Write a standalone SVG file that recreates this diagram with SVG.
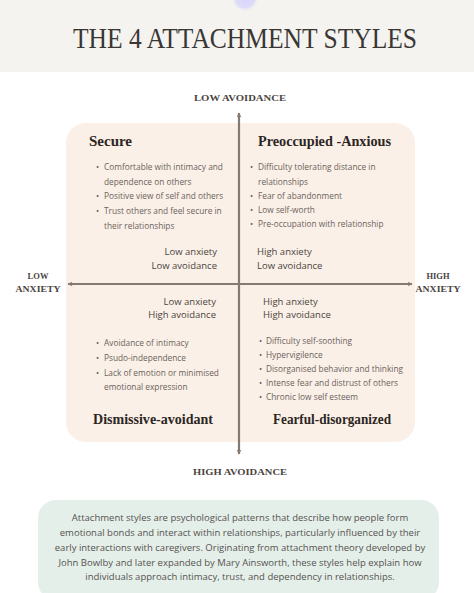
<svg xmlns="http://www.w3.org/2000/svg" width="474" height="593" viewBox="0 0 474 593">
<defs>
<radialGradient id="glow" cx="0.5" cy="0.5" r="0.5">
<stop offset="0" stop-color="#d6d3fb"/>
<stop offset="0.7" stop-color="#dedcf9"/>
<stop offset="1" stop-color="#f3f2ef" stop-opacity="0"/>
</radialGradient>
<marker id="arr" viewBox="0 0 10 10" refX="9" refY="5" markerWidth="5" markerHeight="5" orient="auto-start-reverse" markerUnits="userSpaceOnUse">
<path d="M0,0 L10,5 L0,10 L3,5 Z" fill="#857a72"/>
</marker>
<style>
.title{font-family:"Liberation Serif",serif;font-size:29px;fill:#3a3634}
.axis{font-family:"Liberation Serif",serif;font-weight:bold;font-size:8.5px;fill:#4a4440}
.qt{font-family:"Liberation Serif",serif;font-weight:bold;font-size:14.5px;fill:#2b2624}
.lbl{font-family:"Open Sans",sans-serif;font-size:9.5px;fill:#4a4440}
.bul{font-family:"Open Sans",sans-serif;font-size:8.3px;fill:#6a625c}
.para{font-family:"Open Sans",sans-serif;font-size:9.5px;fill:#57524e}
.line{stroke:#857a72;stroke-width:2.2;fill:none}
</style>
</defs>
<rect x="0" y="0" width="474" height="593" fill="#ffffff"/>
<rect id="header" x="0" y="0" width="474" height="72" fill="#f4f3ef"/>
<circle cx="245" cy="-2" r="14" fill="url(#glow)"/>
<text class="title" x="245" y="48" text-anchor="middle" textLength="344" lengthAdjust="spacingAndGlyphs">THE 4 ATTACHMENT STYLES</text>

<rect id="grid-bg" x="66" y="123" width="349" height="319" rx="20" fill="#fbf0e7"/>

<g id="connectors">
<line class="line" x1="239" y1="113" x2="239" y2="454" marker-start="url(#arr)" marker-end="url(#arr)"/>
<line class="line" x1="68" y1="284" x2="412" y2="284" marker-start="url(#arr)" marker-end="url(#arr)"/>
</g>

<g id="low-avoidance"><text class="axis" x="240" y="101" text-anchor="middle" textLength="92" lengthAdjust="spacingAndGlyphs">LOW AVOIDANCE</text></g>
<g id="high-avoidance"><text class="axis" x="240" y="475" text-anchor="middle" textLength="94" lengthAdjust="spacingAndGlyphs">HIGH AVOIDANCE</text></g>
<g id="low-anxiety"><text class="axis" x="38" y="279" text-anchor="middle">LOW</text><text class="axis" x="38" y="292" text-anchor="middle" textLength="45" lengthAdjust="spacingAndGlyphs">ANXIETY</text></g>
<g id="high-anxiety"><text class="axis" x="438" y="279" text-anchor="middle">HIGH</text><text class="axis" x="438" y="292" text-anchor="middle" textLength="45" lengthAdjust="spacingAndGlyphs">ANXIETY</text></g>

<g id="secure">
<text class="qt" x="89" y="146" textLength="43" lengthAdjust="spacingAndGlyphs">Secure</text>
<g class="bul">
<text x="96" y="170">•</text><text x="104" y="170">Comfortable with intimacy and</text>
<text x="104" y="185">dependence on others</text>
<text x="96" y="199">•</text><text x="104" y="199">Positive view of self and others</text>
<text x="96" y="214">•</text><text x="104" y="214">Trust others and feel secure in</text>
<text x="104" y="229">their relationships</text>
</g>
<text class="lbl" x="217" y="255" text-anchor="end">Low anxiety</text>
<text class="lbl" x="217" y="269" text-anchor="end">Low avoidance</text>
</g>

<g id="preoccupied-anxious">
<text class="qt" x="258" y="146" textLength="133" lengthAdjust="spacingAndGlyphs">Preoccupied -Anxious</text>
<g class="bul">
<text x="250" y="170">•</text><text x="258" y="170">Difficulty tolerating distance in</text>
<text x="258" y="185">relationships</text>
<text x="250" y="199">•</text><text x="258" y="199">Fear of abandonment</text>
<text x="250" y="213">•</text><text x="258" y="213">Low self-worth</text>
<text x="250" y="227">•</text><text x="258" y="227">Pre-occupation with relationship</text>
</g>
<text class="lbl" x="257" y="255">High anxiety</text>
<text class="lbl" x="257" y="269">Low avoidance</text>
</g>

<g id="dismissive-avoidant">
<text class="lbl" x="216" y="305" text-anchor="end">Low anxiety</text>
<text class="lbl" x="216" y="318" text-anchor="end">High avoidance</text>
<g class="bul">
<text x="96" y="346">•</text><text x="104" y="346">Avoidance of intimacy</text>
<text x="96" y="361">•</text><text x="104" y="361">Psudo-independence</text>
<text x="96" y="376">•</text><text x="104" y="376">Lack of emotion or minimised</text>
<text x="104" y="390">emotional expression</text>
</g>
<text class="qt" x="93" y="424" textLength="120" lengthAdjust="spacingAndGlyphs">Dismissive-avoidant</text>
</g>

<g id="fearful-disorganized">
<text class="lbl" x="263" y="305">High anxiety</text>
<text class="lbl" x="263" y="318">High avoidance</text>
<g class="bul">
<text x="259" y="344">•</text><text x="266" y="344">Difficulty self-soothing</text>
<text x="259" y="358">•</text><text x="266" y="358">Hypervigilence</text>
<text x="259" y="372">•</text><text x="266" y="372">Disorganised behavior and thinking</text>
<text x="259" y="386">•</text><text x="266" y="386">Intense fear and distrust of others</text>
<text x="259" y="400">•</text><text x="266" y="400">Chronic low self esteem</text>
</g>
<text class="qt" x="273" y="424" textLength="118" lengthAdjust="spacingAndGlyphs">Fearful-disorganized</text>
</g>

<g id="description">
<rect x="38" y="500" width="401" height="100" rx="18" fill="#e4efea"/>
<g class="para" text-anchor="middle">
<text x="240" y="521">Attachment styles are psychological patterns that describe how people form</text>
<text x="240" y="536">emotional bonds and interact within relationships, particularly influenced by their</text>
<text x="240" y="551">early interactions with caregivers. Originating from attachment theory developed by</text>
<text x="240" y="566">John Bowlby and later expanded by Mary Ainsworth, these styles help explain how</text>
<text x="240" y="580">individuals approach intimacy, trust, and dependency in relationships.</text>
</g>
</g>
</svg>
